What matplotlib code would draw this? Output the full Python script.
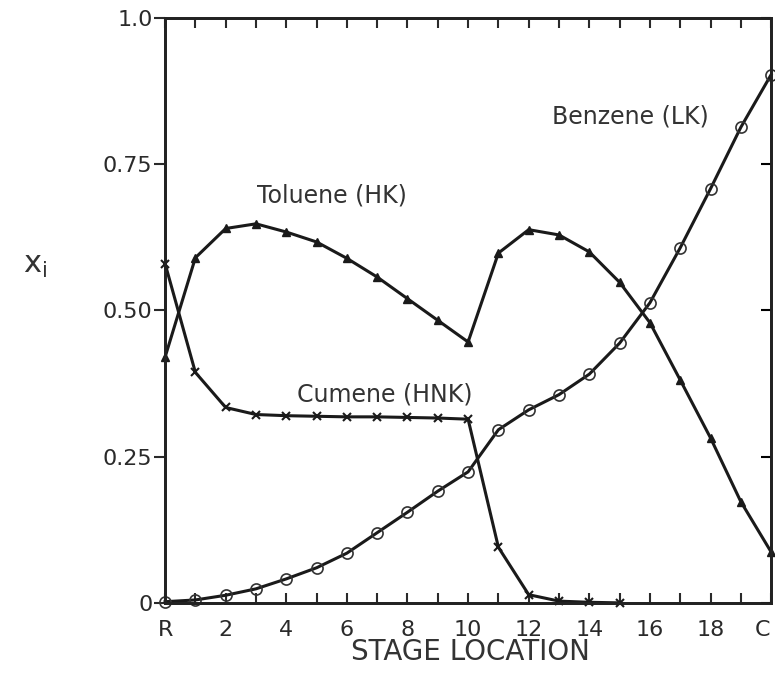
import matplotlib.pyplot as plt
import matplotlib.transforms as mtransforms

# stage index: 0 = R (reboiler), 20 = C (condenser)
stages = list(range(21))
toluene = [0.42, 0.59, 0.64, 0.648, 0.634, 0.617, 0.589, 0.557, 0.52, 0.483, 0.446,
           0.598, 0.638, 0.629, 0.6, 0.548, 0.479, 0.381, 0.282, 0.173, 0.087]
cumene_stages = list(range(16))
cumene = [0.58, 0.394, 0.334, 0.322, 0.32, 0.319, 0.318, 0.318, 0.317, 0.316, 0.314,
          0.095, 0.014, 0.003, 0.001, 0.0]
benzene = [0.002, 0.005, 0.013, 0.024, 0.041, 0.06, 0.085, 0.12, 0.155, 0.191, 0.224,
           0.296, 0.33, 0.356, 0.391, 0.444, 0.513, 0.607, 0.708, 0.813, 0.903]

xtick_pos = [0, 2, 4, 6, 8, 10, 12, 14, 16, 18, 20]
xtick_lab = ['R', '2', '4', '6', '8', '10', '12', '14', '16', '18', 'C']
ytick_pos = [0, 0.25, 0.5, 0.75, 1.0]
ytick_lab = ['0', '0.25', '0.50', '0.75', '1.0']

plt.rcParams['font.family'] = ['DejaVu Sans']
ink = '#2a2a2a'

fig = plt.figure(figsize=(7.75, 6.89), dpi=100)
ax = fig.add_axes([0.213, 0.125, 0.782, 0.849])

ax.plot(stages, toluene, color='#1a1a1a', lw=2.2, marker='^', ms=6,
        mfc='#1a1a1a', mec='#1a1a1a', clip_on=False, zorder=3)
ax.plot(cumene_stages, cumene, color='#1a1a1a', lw=2.2, marker='x', ms=6,
        mew=1.5, clip_on=False, zorder=3)
ax.plot(stages, benzene, color='#1a1a1a', lw=2.2, marker='o', ms=8,
        mfc='none', mec='#333333', mew=1.2, clip_on=False, zorder=3)

ax.set_xlim(0, 20)
ax.set_ylim(0, 1.0)

ax.set_xticks(xtick_pos)
ax.set_xticklabels(xtick_lab)
ax.set_xticks(stages, minor=True)
ax.set_yticks(ytick_pos)
ax.set_yticklabels(ytick_lab)

ax.tick_params(axis='x', which='both', direction='in', top=True, length=7,
               width=1.5, labelsize=16, colors=ink, pad=12)
ax.tick_params(axis='y', which='both', direction='out', length=8, width=1.5,
               labelsize=16, colors=ink, pad=1)
ax2 = ax.twinx()
ax2.set_ylim(0, 1.0)
ax2.set_yticks(ytick_pos)
ax2.tick_params(axis='y', direction='in', length=7, width=1.5, labelright=False)

# pull the "C" label back inside the figure
last = ax.get_xticklabels()[-1]
last.set_transform(last.get_transform() + mtransforms.ScaledTranslation(-9 / 100, 0, fig.dpi_scale_trans))

for a in (ax, ax2):
    for s in a.spines.values():
        s.set_linewidth(2)
        s.set_color('#222222')

ax.text(5.5, 0.697, 'Toluene (HK)', fontsize=17, color='#333333', ha='center', va='center')
ax.text(7.25, 0.357, 'Cumene (HNK)', fontsize=17, color='#333333', ha='center', va='center')
ax.text(15.35, 0.831, 'Benzene (LK)', fontsize=17, color='#333333', ha='center', va='center')

fig.text(0.045, 0.615, r'$\mathregular{x_i}$', fontsize=22, color='#333333',
         ha='center', va='center')
fig.text(0.607, 0.054, 'STAGE LOCATION', fontsize=20, color='#333333',
         ha='center', va='center')

fig.savefig('out.png', dpi=100)
